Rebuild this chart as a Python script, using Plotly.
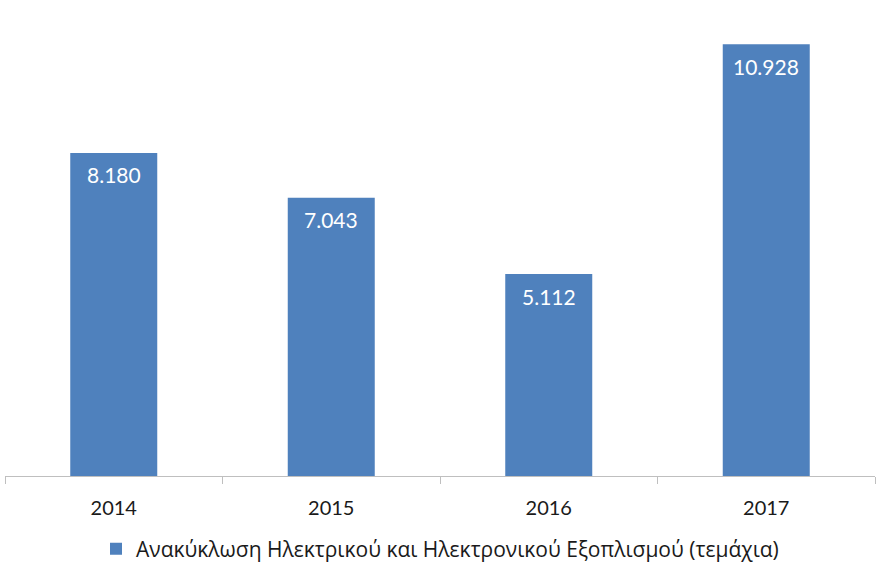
import plotly.graph_objects as go

years = ["2014", "2015", "2016", "2017"]
values = [8180, 7043, 5112, 10928]
series_name = "Ανακύκλωση Ηλεκτρικού και Ηλεκτρονικού Εξοπλισμού (τεμάχια)"

def fmt(v):
    return f"{v:,}".replace(",", ".")

fig = go.Figure()
fig.add_trace(go.Bar(
    x=years, y=values, name=series_name,
    marker=dict(color="#4F81BD", line=dict(width=0)),
    showlegend=True,
))

for i, v in enumerate(values):
    fig.add_annotation(x=i, y=v, xref="x", yref="y", text=fmt(v), showarrow=False,
                       yanchor="middle", yshift=-22,
                       font=dict(family="Lato, Open Sans, sans-serif", size=21, color="white"))

fig.update_layout(
    width=880, height=566,
    margin=dict(l=5, r=5, t=2, b=90, autoexpand=False),
    paper_bgcolor="white", plot_bgcolor="white",
    bargap=0.6,
    font=dict(family="Lato, Open Sans, sans-serif", size=20, color="#1a1a1a"),
    xaxis=dict(
        type="category", range=[-0.5, 3.5],
        showline=True, linecolor="#BFBFBF", linewidth=1,
        ticks="outside", tickson="boundaries", ticklen=7, tickcolor="#BFBFBF",
        ticklabelstandoff=14,
        showgrid=False, tickfont=dict(size=20, color="#1a1a1a"),
        automargin=False,
    ),
    yaxis=dict(range=[0, 12000], visible=False, showgrid=False, zeroline=False),
    legend=dict(orientation="h", x=0.5, xanchor="center",
                yref="container", y=0.030, yanchor="middle",
                font=dict(family="Open Sans, sans-serif", size=21, color="#1a1a1a"),
                itemsizing="constant"),
)

fig.write_html("out.html", config={"displayModeBar": False},
               post_script="document.body.style.margin='0';")
